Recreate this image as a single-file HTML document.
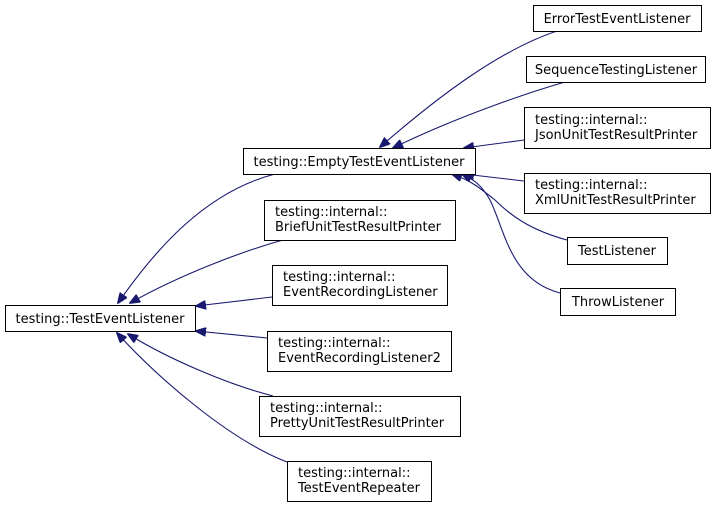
<!DOCTYPE html>
<html><head><meta charset="utf-8"><style>
html,body{margin:0;padding:0;background:#fff;}
svg text{font-family:"DejaVu Sans","Liberation Sans",sans-serif;font-size:13px;fill:#000;}
</style></head><body>
<svg width="716" height="507" viewBox="0 0 716 507" xmlns="http://www.w3.org/2000/svg">
<defs>
<marker id="a" markerWidth="11" markerHeight="9" refX="10" refY="4.5" orient="auto" markerUnits="userSpaceOnUse">
<polygon points="0,0 11,4.5 0,9" fill="#191970" stroke="#191970"/>
</marker>
</defs>
<g fill="none" stroke="#191970" stroke-width="1.1" marker-end="url(#a)">
<path d="M275,174 C205,192 155,250 118,303"/>
<path d="M283,240 C240,252 180,275 130,303"/>
<path d="M272,297 L196,306"/>
<path d="M267,338 L196,331"/>
<path d="M273,396 C230,385 170,360 128,334"/>
<path d="M287,462 C230,440 160,380 117,333"/>
<path d="M557,31 C500,50 440,95 380,147"/>
<path d="M565,82 C520,95 450,120 393,148"/>
<path d="M524,140 L464,148"/>
<path d="M524,181 L464,174"/>
<path d="M567,240 C530,230 510,215 495,200 C480,188 470,180 452,174"/>
<path d="M560,293 C510,280 505,230 490,200 C482,186 475,180 462,174"/>
</g>
<g fill="#fff" stroke="#000" stroke-width="1">
<rect x="533.5" y="5.5" width="168" height="26"/>
<rect x="526.5" y="56.5" width="179" height="26"/>
<rect x="524.5" y="107.5" width="186" height="41"/>
<rect x="524.5" y="173.5" width="186" height="40"/>
<rect x="567.5" y="237.5" width="100" height="27"/>
<rect x="560.5" y="288.5" width="115" height="27"/>
<rect x="243.5" y="148.5" width="232" height="26"/>
<rect x="264.5" y="200.5" width="191" height="40"/>
<rect x="272.5" y="265.5" width="175" height="40"/>
<rect x="267.5" y="331.5" width="184" height="40"/>
<rect x="259.5" y="396.5" width="201" height="40"/>
<rect x="287.5" y="461.5" width="144" height="40"/>
<rect x="5.5" y="305.5" width="190" height="26"/>
</g>
<text x="617" y="23" text-anchor="middle">ErrorTestEventListener</text>
<text x="616" y="74" text-anchor="middle">SequenceTestingListener</text>
<text x="535" y="124">testing::internal::</text>
<text x="535" y="139">JsonUnitTestResultPrinter</text>
<text x="535" y="189">testing::internal::</text>
<text x="535" y="204">XmlUnitTestResultPrinter</text>
<text x="617" y="255" text-anchor="middle">TestListener</text>
<text x="618" y="306" text-anchor="middle">ThrowListener</text>
<text x="359" y="166" text-anchor="middle">testing::EmptyTestEventListener</text>
<text x="275" y="216">testing::internal::</text>
<text x="275" y="231">BriefUnitTestResultPrinter</text>
<text x="283" y="281">testing::internal::</text>
<text x="283" y="296">EventRecordingListener</text>
<text x="278" y="347">testing::internal::</text>
<text x="278" y="362">EventRecordingListener2</text>
<text x="270" y="412">testing::internal::</text>
<text x="270" y="427">PrettyUnitTestResultPrinter</text>
<text x="298" y="477">testing::internal::</text>
<text x="298" y="492">TestEventRepeater</text>
<text x="100" y="323" text-anchor="middle">testing::TestEventListener</text>
</svg>
</body></html>
